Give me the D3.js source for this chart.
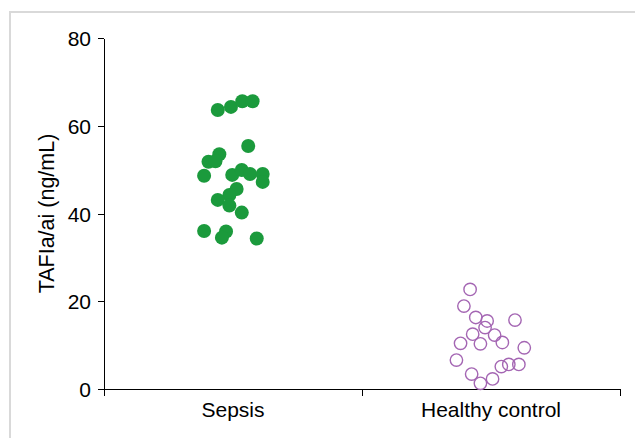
<!DOCTYPE html>
<html>
<head>
<meta charset="utf-8">
<script src="https://cdn.jsdelivr.net/npm/d3@7"></script>
<style>
body { margin: 0; background: #fff; }
svg { font-family: "Liberation Sans", Arial, sans-serif; }
.axis path, .axis line { stroke: #000; shape-rendering: crispEdges; }
.axis text { fill: #000; font-size: 21px; }
</style>
</head>
<body>
<script>
var groups = ["Sepsis", "Healthy control"];
var yTicks = [0, 20, 40, 60, 80];

// values, jitter = offset inside the group (fraction of group width)
var sepsisValues = [63.6, 64.3, 65.6, 65.6, 55.4, 53.5, 51.8, 51.9, 48.6, 48.8, 49.9, 49.0,
                    49.0, 47.2, 45.6, 44.2, 43.1, 41.8, 40.2, 36.0, 35.9, 34.5, 34.3];
var sepsisJitter = [-0.059, -0.008, 0.036, 0.076, 0.059, -0.053, -0.095, -0.068, -0.112, -0.003, 0.034, 0.066,
                    0.115, 0.115, 0.014, -0.014, -0.059, -0.014, 0.034, -0.112, -0.027, -0.043, 0.092];
var controlValues = [22.7, 18.9, 16.3, 15.5, 15.7, 14.0, 12.5, 12.3, 10.6, 10.4, 10.3, 9.4,
                     6.6, 5.1, 5.6, 5.6, 3.4, 2.3, 1.3];
var controlJitter = [-0.081, -0.105, -0.059, -0.015, 0.093, -0.023, -0.071, 0.014, 0.044, -0.118, -0.041, 0.129,
                     -0.134, 0.040, 0.069, 0.108, -0.075, 0.006, -0.041];

var margin = {top: 38, right: 15, bottom: 49, left: 104},
    W = 635, H = 438,
    width = W - margin.left - margin.right,
    height = H - margin.top - margin.bottom;

var svg = d3.select("body").append("svg")
    .attr("width", W)
    .attr("height", H);

// light frame of the figure panel
svg.append("rect")
    .attr("x", 10).attr("y", 12)
    .attr("width", W + 10).attr("height", H + 10)
    .style("fill", "none")
    .style("stroke", "#d9d9d9")
    .style("stroke-width", 2);

var g = svg.append("g")
    .attr("transform", "translate(" + margin.left + "," + margin.top + ")");

var x = d3.scaleBand().domain(groups).range([0, width]);
var y = d3.scaleLinear().domain([0, 80]).range([height, 0]);

var yAxis = d3.axisLeft(y).tickValues(yTicks).tickSize(6).tickPadding(7).tickSizeOuter(0);

g.append("g")
    .attr("class", "axis")
    .call(yAxis)
    .call(function(s) { s.selectAll("text").attr("dy", "0.36em"); });

var xg = g.append("g")
    .attr("class", "axis")
    .attr("transform", "translate(0," + height + ")")
    .call(d3.axisBottom(x).tickSize(0).tickPadding(13).tickSizeOuter(0));

// ticks on the group boundaries
var edges = groups.map(function(d) { return x(d); }).concat([x(groups[groups.length - 1]) + x.bandwidth()]);
xg.selectAll(".edge")
    .data(edges)
  .enter().append("line")
    .attr("class", "edge")
    .attr("x1", function(d) { return d; })
    .attr("x2", function(d) { return d; })
    .attr("y1", 0)
    .attr("y2", 7);

g.append("text")
    .attr("transform", "rotate(-90)")
    .attr("x", -y(40))
    .attr("y", -50)
    .style("text-anchor", "middle")
    .style("font-size", "21.5px")
    .text("TAFIa/ai (ng/mL)");

var sepsis = sepsisValues.map(function(v, i) { return {v: v, j: sepsisJitter[i]}; });
var control = controlValues.map(function(v, i) { return {v: v, j: controlJitter[i]}; });

function cx(group) {
  return function(d) { return x(group) + x.bandwidth() * (0.5 + d.j); };
}

g.selectAll(".sepsis")
    .data(sepsis)
  .enter().append("circle")
    .attr("class", "sepsis")
    .attr("r", 7)
    .attr("cx", cx("Sepsis"))
    .attr("cy", function(d) { return y(d.v); })
    .style("fill", "#1b9a3c");

g.selectAll(".control")
    .data(control)
  .enter().append("circle")
    .attr("class", "control")
    .attr("r", 6.2)
    .attr("cx", cx("Healthy control"))
    .attr("cy", function(d) { return y(d.v); })
    .style("fill", "none")
    .style("stroke", "#a466b3")
    .style("stroke-width", 1.4);
</script>
</body>
</html>
